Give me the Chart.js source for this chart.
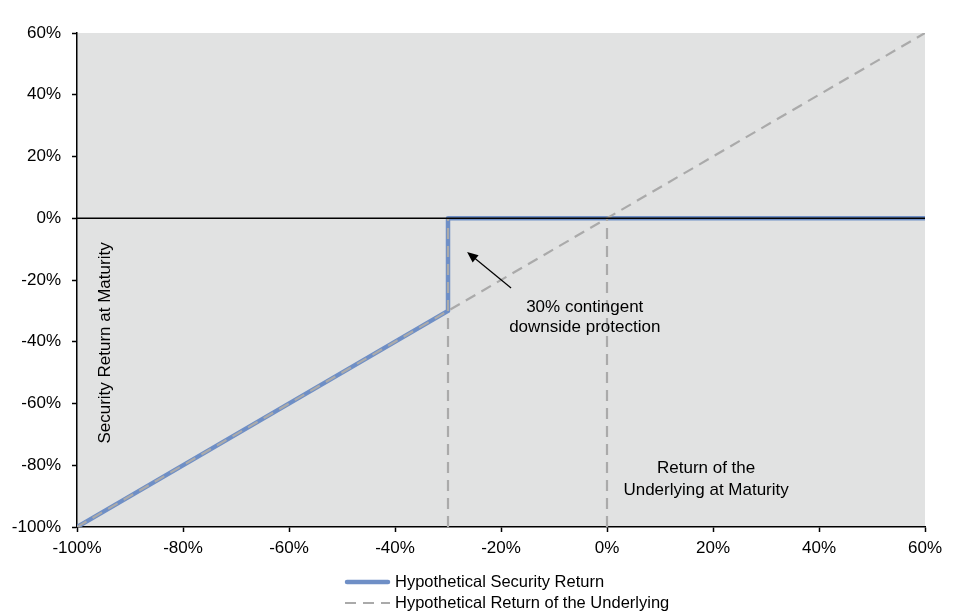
<!DOCTYPE html>
<html lang="en">
  <head>
    <title>Security Return at Maturity</title>
    <meta charset="utf-8">
    <script src="https://cdn.jsdelivr.net/npm/chart.js@4/dist/chart.umd.min.js"></script>
    <style>
      body { margin: 0; background: #fff; }
    </style>
  </head>
  <body>
    <canvas id="myChart1" width="976" height="614"></canvas>
  </body>
  <script>
    // values (percent)
    const securityX = [-100, -30, -30, 60];
    const securityY = [-100, -30, 0, 0];
    const underlyingX = [-100, 60];
    const underlyingY = [-100, 60];
    const guideX = [-30, 0];
    const guideTop = 0;
    const xTickValues = [-100, -80, -60, -40, -20, 0, 20, 40, 60];
    const yTickValues = [-100, -80, -60, -40, -20, 0, 20, 40, 60];
    const seriesLabels = ['Hypothetical Security Return', 'Hypothetical Return of the Underlying'];
    const noteLines = ['30% contingent', 'downside protection'];
    const yNote = 'Security Return at Maturity';
    const xNoteLines = ['Return of the', 'Underlying at Maturity'];

    function pts(xs, ys) {
        return xs.map(function(x, i){ return {x: x, y: ys[i]}; });
    }

    const blue = '#6f8fc6';
    const gray = '#aaaaaa';
    const dash = [11, 7];
    const FONT = '"Liberation Sans", Arial, sans-serif';

    var datasets = [
        { label: 'zero', data: pts([-100, 60], [0, 0]), borderColor: '#000', borderWidth: 1.5 },
    ];
    guideX.forEach(function(g){
        datasets.push({ label: 'guide', data: pts([g, g], [-100, guideTop]), borderColor: gray, borderWidth: 2.2, borderDash: dash });
    });
    datasets.push({ label: seriesLabels[1], data: pts(underlyingX, underlyingY), borderColor: gray, borderWidth: 2.2, borderDash: dash });
    datasets.push({ label: seriesLabels[0], data: pts(securityX, securityY), borderColor: blue, borderWidth: 4.5, borderCapStyle: 'round', borderJoinStyle: 'round' });
    datasets.forEach(function(d){
        d.showLine = true; d.pointRadius = 0; d.fill = false; d.tension = 0;
    });

    var extras = {
        id: 'extras',
        beforeDraw: function(chart){
            var a = chart.chartArea, ctx = chart.ctx;
            ctx.save();
            ctx.fillStyle = '#e1e2e2';
            ctx.fillRect(a.left, a.top, a.right - a.left, a.bottom - a.top);
            ctx.restore();
        },
        afterDraw: function(chart){
            var ctx = chart.ctx, xs = chart.scales.x, ys = chart.scales.y;
            ctx.save();
            ctx.fillStyle = '#000';
            ctx.strokeStyle = '#000';
            ctx.font = '17px ' + FONT;
            ctx.textAlign = 'center';
            ctx.textBaseline = 'middle';

            // arrow
            var x1 = xs.getPixelForValue(-18.1), y1 = ys.getPixelForValue(-22.6);
            var x2 = xs.getPixelForValue(-26.4), y2 = ys.getPixelForValue(-10.9);
            var ang = Math.atan2(y2 - y1, x2 - x1);
            ctx.lineWidth = 1.2;
            ctx.beginPath(); ctx.moveTo(x1, y1);
            ctx.lineTo(x2 - 6 * Math.cos(ang), y2 - 6 * Math.sin(ang)); ctx.stroke();
            ctx.beginPath();
            ctx.moveTo(x2, y2);
            ctx.lineTo(x2 - 12 * Math.cos(ang - 0.4), y2 - 12 * Math.sin(ang - 0.4));
            ctx.lineTo(x2 - 12 * Math.cos(ang + 0.4), y2 - 12 * Math.sin(ang + 0.4));
            ctx.closePath(); ctx.fill();

            // annotation text
            ctx.fillText(noteLines[0], xs.getPixelForValue(-4.2), ys.getPixelForValue(-28.7));
            ctx.fillText(noteLines[1], xs.getPixelForValue(-4.2), ys.getPixelForValue(-35.2));
            ctx.fillText(xNoteLines[0], xs.getPixelForValue(18.7), ys.getPixelForValue(-80.9));
            ctx.fillText(xNoteLines[1], xs.getPixelForValue(18.7), ys.getPixelForValue(-88));

            ctx.save();
            ctx.translate(xs.getPixelForValue(-94.7), ys.getPixelForValue(-40.4));
            ctx.rotate(-Math.PI / 2);
            ctx.fillText(yNote, 0, 0);
            ctx.restore();

            // legend
            var lx = 345, ly = [582, 603];
            ctx.font = '16.5px ' + FONT;
            ctx.textAlign = 'left';
            ctx.lineCap = 'round';
            ctx.strokeStyle = blue; ctx.lineWidth = 4.5;
            ctx.beginPath(); ctx.moveTo(lx + 2, ly[0]); ctx.lineTo(lx + 43, ly[0]); ctx.stroke();
            ctx.lineCap = 'butt';
            ctx.strokeStyle = gray; ctx.lineWidth = 2.2; ctx.setLineDash(dash);
            ctx.beginPath(); ctx.moveTo(lx, ly[1]); ctx.lineTo(lx + 45, ly[1]); ctx.stroke();
            ctx.setLineDash([]);
            ctx.fillStyle = '#000';
            ctx.fillText(seriesLabels[0], lx + 50, ly[0]);
            ctx.fillText(seriesLabels[1], lx + 50, ly[1]);
            ctx.restore();
        }
    };

    function pct(v){ return v + '%'; }

    var ctx = document.getElementById("myChart1").getContext('2d');
    var myChart1 = new Chart(ctx, {
        type: 'scatter',
        data: { datasets: datasets },
        options: {
            responsive: false,
            animation: false,
            layout: { padding: { left: 0, top: 33, right: 51, bottom: 47 } },
            plugins: { legend: { display: false }, tooltip: { enabled: false } },
            scales: {
                x: {
                    type: 'linear', min: -100, max: 60,
                    afterBuildTicks: function(s){ s.ticks = xTickValues.map(function(v){ return {value: v}; }); },
                    afterFit: function(s){ s.height = 40; },
                    border: { color: '#000', width: 1.5 },
                    grid: { drawOnChartArea: false, color: '#000', tickLength: 5, tickWidth: 1.5 },
                    ticks: { color: '#000', padding: 6, maxRotation: 0, font: { size: 17, family: FONT }, callback: pct }
                },
                y: {
                    type: 'linear', min: -100, max: 60,
                    afterBuildTicks: function(s){ s.ticks = yTickValues.map(function(v){ return {value: v}; }); },
                    afterFit: function(s){ s.width = 77; },
                    border: { color: '#000', width: 1.5 },
                    grid: { drawOnChartArea: false, color: '#000', tickLength: 5, tickWidth: 1.5 },
                    ticks: { color: '#000', padding: 11, font: { size: 17, family: FONT }, callback: pct }
                }
            }
        },
        plugins: [extras]
    });
  </script>
</html>
